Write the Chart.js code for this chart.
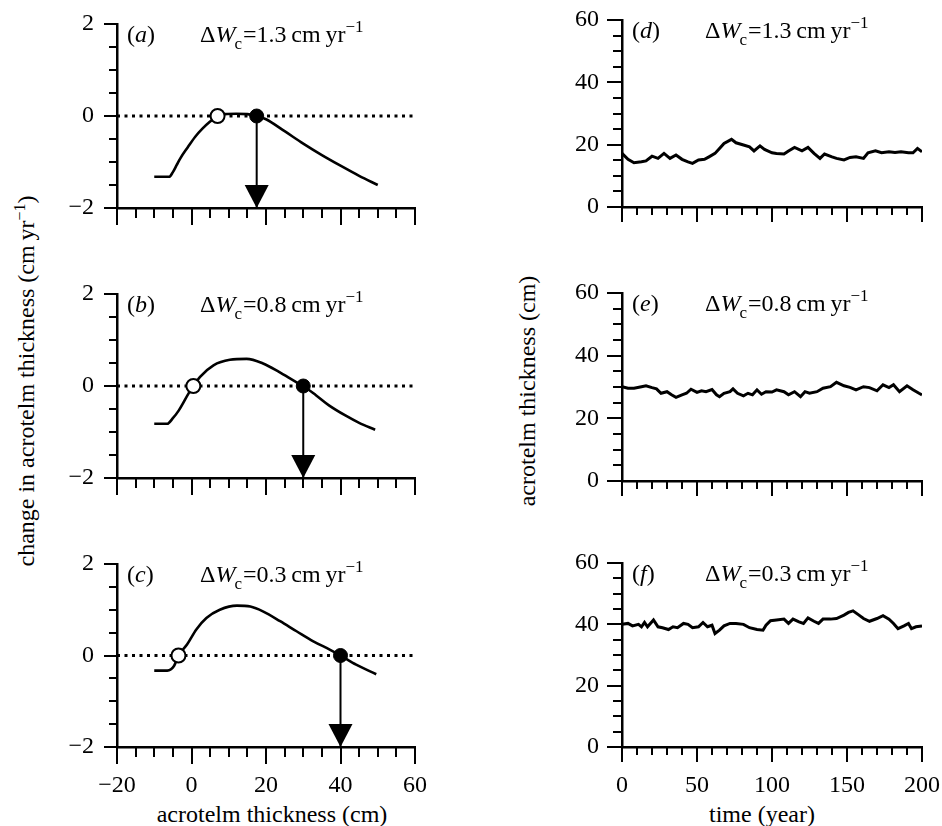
<!DOCTYPE html>
<html>
<head>
<meta charset="utf-8">
<script src="https://cdn.jsdelivr.net/npm/chart.js@4.4.1/dist/chart.umd.min.js"></script>
<style>
  html, body { margin: 0; padding: 0; background: #fff; }
  body { width: 942px; height: 826px; position: relative; overflow: hidden;
         font-family: "Liberation Serif", "Times New Roman", serif; color: #000; }
  canvas { position: absolute; }
  .title { position: absolute; font-size: 24px; white-space: nowrap; line-height: 1; }
  .title sup { font-size: 16px; }
  .rot { transform: translate(-50%, -50%) rotate(-90deg); }
  .hor { transform: translate(-50%, -50%); }
</style>
</head>
<body>
<div class="title rot" style="left:25px; top:381px;">change in acrotelm thickness (cm&#8201;yr<sup>&minus;1</sup>)</div>
<div class="title rot" style="left:527px; top:391px;">acrotelm thickness (cm)</div>
<div class="title hor" style="left:272px; top:814px;">acrotelm thickness (cm)</div>
<div class="title hor" style="left:762px; top:814px;">time (year)</div>

<script>
const FONT = '"Liberation Serif", "Times New Roman", serif';

// tick labels
const leftXTicks = [-20, 0, 20, 40, 60];
const leftYTicks = [-2, 0, 2];
const rightXTicks = [0, 50, 100, 150, 200];
const rightYTicks = [0, 20, 40, 60];

// (a) dWc = 1.3
const aThickness = [-10, -6, -5, -4, -3, -1, 1, 3, 5, 7, 9, 12, 15, 17.5, 20, 25, 30, 35, 40, 45, 50];
const aChange = [-1.32, -1.32, -1.22, -1.07, -0.92, -0.68, -0.45, -0.27, -0.12, 0, 0.04, 0.05, 0.04, 0, -0.07, -0.33, -0.6, -0.85, -1.08, -1.3, -1.5];
const aUnstable = 7, aStable = 17.5;

// (b) dWc = 0.8
const bThickness = [-10, -6.5, -5, -3.4, -0.7, 0.5, 2.3, 5.9, 10.3, 14.8, 19.2, 23.6, 28, 30, 33.4, 36.9, 41.3, 45, 49.3];
const bChange = [-0.82, -0.82, -0.7, -0.53, -0.15, 0, 0.2, 0.45, 0.57, 0.59, 0.49, 0.3, 0.09, 0, -0.2, -0.42, -0.64, -0.8, -0.95];
const bUnstable = 0.5, bStable = 30;

// (c) dWc = 0.3
const cThickness = [-10, -6.5, -4.7, -3.5, -1.2, 1.3, 4, 7.6, 12.2, 15.8, 19.3, 23.8, 28.2, 32.7, 37.1, 40, 44.2, 49.6];
const cChange = [-0.33, -0.33, -0.23, 0, 0.24, 0.57, 0.82, 1.0, 1.09, 1.07, 0.96, 0.75, 0.53, 0.31, 0.13, 0, -0.2, -0.41];
const cUnstable = -3.5, cStable = 40;

// (d) time series, dWc = 1.3
const dYear = [0, 4, 8, 13, 16, 20, 24, 28, 32, 36, 40, 44, 47, 51, 55, 58, 62, 65, 68, 73, 76, 81, 85, 88, 92, 95, 100, 103, 108, 111, 115, 120, 124, 128, 132, 135, 140, 143, 148, 152, 156, 161, 164, 169, 173, 178, 182, 186, 191, 194, 197, 200];
const dThick = [17.2, 15.3, 14.2, 14.5, 14.8, 16.3, 15.6, 17.2, 15.6, 16.7, 15.3, 14.5, 14.0, 15.1, 15.3, 16.1, 17.2, 18.8, 20.4, 21.7, 20.6, 19.9, 19.3, 18.0, 19.6, 18.5, 17.4, 17.2, 17.0, 18.0, 19.1, 18.0, 19.1, 17.2, 15.6, 17.0, 16.1, 15.6, 15.1, 15.9, 16.1, 15.6, 17.4, 18.0, 17.4, 17.7, 17.5, 17.7, 17.4, 17.4, 18.8, 17.7];

// (e) time series, dWc = 0.8
const eYear = [0, 4, 8, 13, 16, 20, 23, 26, 30, 33, 36, 40, 43, 46, 50, 53, 56, 60, 63, 65, 68, 72, 74, 77, 81, 84, 87, 90, 93, 96, 100, 103, 108, 111, 115, 119, 122, 125, 130, 134, 139, 143, 148, 152, 156, 161, 165, 170, 174, 178, 181, 185, 190, 194, 198, 200];
const eThick = [30.1, 29.6, 29.6, 30.1, 30.4, 29.8, 29.4, 28.0, 28.5, 27.5, 26.7, 27.5, 28.0, 29.3, 28.3, 28.8, 28.5, 29.2, 27.5, 26.9, 28.0, 28.5, 29.4, 28.0, 27.2, 28.0, 27.5, 29.1, 27.7, 28.5, 28.4, 29.1, 28.5, 27.5, 28.5, 26.9, 28.5, 28.0, 28.5, 29.6, 30.1, 31.5, 30.4, 29.9, 29.1, 30.1, 29.8, 28.8, 30.7, 29.8, 30.7, 28.5, 30.4, 29.1, 28.0, 27.5];

// (f) time series, dWc = 0.3
const fYear = [0, 4, 7, 11, 13, 15, 17, 21, 24, 27, 31, 34, 37, 41, 44, 47, 51, 54, 57, 60, 62, 65, 68, 72, 76, 81, 85, 90, 94, 96, 99, 103, 108, 111, 114, 118, 121, 124, 128, 131, 134, 139, 143, 148, 151, 154, 158, 161, 165, 170, 174, 178, 181, 184, 188, 191, 193, 196, 200];
const fThick = [40.0, 40.3, 39.5, 40.0, 39.2, 40.6, 39.2, 41.4, 39.2, 38.9, 38.3, 39.2, 38.9, 40.3, 40.0, 38.9, 39.2, 40.6, 39.2, 39.7, 37.0, 38.1, 39.5, 40.3, 40.3, 40.0, 38.9, 38.3, 38.1, 39.7, 41.2, 41.4, 41.7, 40.3, 41.7, 40.8, 40.3, 42.1, 41.0, 40.3, 41.7, 41.7, 41.9, 43.0, 43.9, 44.4, 43.0, 41.9, 41.0, 41.9, 42.8, 41.7, 40.3, 38.6, 39.5, 40.3, 38.6, 39.2, 39.5];

Chart.defaults.font.family = FONT;
Chart.defaults.font.size = 24;
Chart.defaults.color = '#000';

function fmt(v) {
  return v < 0 ? '\u2212' + Math.abs(v) : String(v);
}

function pts(xs, ys) {
  return xs.map((x, i) => ({ x: x, y: ys[i] }));
}

// outward tick marks, long at labelled values and short between them
const tickMarks = {
  id: 'tickMarks',
  afterDraw(chart, args, opts) {
    const ctx = chart.ctx;
    const area = chart.chartArea;
    ctx.save();
    ctx.strokeStyle = '#000';
    ctx.lineWidth = 2;
    chart.scales.x.ticks.forEach(t => {
      const px = Math.round(chart.scales.x.getPixelForValue(t.value));
      const len = opts.xMajor.includes(t.value) ? opts.xLen[0] : opts.xLen[1];
      ctx.beginPath();
      ctx.moveTo(px, area.bottom);
      ctx.lineTo(px, area.bottom + len);
      ctx.stroke();
    });
    chart.scales.y.ticks.forEach(t => {
      const py = Math.round(chart.scales.y.getPixelForValue(t.value));
      const len = opts.yMajor.includes(t.value) ? opts.yLen[0] : opts.yLen[1];
      ctx.beginPath();
      ctx.moveTo(area.left, py);
      ctx.lineTo(area.left - len, py);
      ctx.stroke();
    });
    ctx.restore();
  }
};

// filled arrow head at the last point of datasets flagged with arrow
const arrowHeads = {
  id: 'arrowHeads',
  afterDatasetsDraw(chart) {
    const ctx = chart.ctx;
    chart.data.datasets.forEach((ds, i) => {
      if (!ds.arrow) return;
      const els = chart.getDatasetMeta(i).data;
      const tip = els[els.length - 1];
      ctx.save();
      ctx.fillStyle = '#000';
      ctx.beginPath();
      ctx.moveTo(tip.x, tip.y);
      ctx.lineTo(tip.x - 12, tip.y - 23);
      ctx.lineTo(tip.x + 12, tip.y - 23);
      ctx.closePath();
      ctx.fill();
      ctx.restore();
    });
  }
};

// panel letter and "ΔWc = x cm yr-1" note
const panelNote = {
  id: 'panelNote',
  afterDraw(chart, args, opts) {
    const ctx = chart.ctx;
    const area = chart.chartArea;
    const base = area.top + 18;
    const big = '24px ' + FONT, bigIt = 'italic 24px ' + FONT, small = '17px ' + FONT;
    ctx.save();
    ctx.fillStyle = '#000';
    ctx.textBaseline = 'alphabetic';
    let x = area.left + 10;
    const put = (txt, font, dy) => {
      ctx.font = font;
      ctx.fillText(txt, x, base + (dy || 0));
      x += ctx.measureText(txt).width;
    };
    put('(', big); put(opts.letter, bigIt); put(')', big);
    x = area.left + 83;
    put('\u0394', big); put('W', bigIt);
    x -= 1;
    put('c', small, 7);
    x += 1;
    put('=', big);
    put(opts.rate + '\u2009cm\u2009yr', big);
    put('\u22121', small, -10);
    ctx.restore();
  }
};

function makeScales(left, showX) {
  const xMajor = left ? leftXTicks : rightXTicks;
  const yMajor = left ? leftYTicks : rightYTicks;
  return {
    x: {
      type: 'linear',
      min: xMajor[0],
      max: xMajor[xMajor.length - 1],
      grid: { display: false },
      border: { display: true, color: '#000', width: 2.5 },
      ticks: {
        stepSize: left ? 5 : 10,
        autoSkip: false,
        maxTicksLimit: 100,
        maxRotation: 0,
        padding: 16,
        color: '#000',
        callback: v => (showX && xMajor.includes(v)) ? fmt(v) : ''
      },
      afterFit: s => { s.height = 50; s.paddingLeft = 0; s.paddingRight = 0; }
    },
    y: {
      type: 'linear',
      min: yMajor[0],
      max: yMajor[yMajor.length - 1],
      grid: { display: false },
      border: { display: true, color: '#000', width: 2.5 },
      ticks: {
        stepSize: left ? 0.5 : 5,
        autoSkip: false,
        maxTicksLimit: 100,
        padding: 15,
        color: '#000',
        callback: v => yMajor.includes(v) ? fmt(v) : ''
      },
      afterFit: s => { s.width = 60; s.paddingTop = 0; s.paddingBottom = 0; }
    }
  };
}

function phaseDatasets(xs, ys, unstable, stable) {
  return [
    { data: pts(xs, ys), borderColor: '#000', borderWidth: 2.6, pointRadius: 0,
      cubicInterpolationMode: 'monotone', order: 2 },
    { data: [{ x: leftXTicks[0], y: 0 }, { x: leftXTicks[leftXTicks.length - 1], y: 0 }],
      borderColor: '#000', borderWidth: 3, borderDash: [3, 4.5], pointRadius: 0, order: 4 },
    { data: [{ x: stable, y: 0 }, { x: stable, y: leftYTicks[0] }], arrow: true,
      borderColor: '#000', borderWidth: 2, pointRadius: 0, order: 3 },
    { data: [{ x: unstable, y: 0 }], showLine: false, pointRadius: 7,
      pointBackgroundColor: '#fff', pointBorderColor: '#000', pointBorderWidth: 2, order: 1 },
    { data: [{ x: stable, y: 0 }], showLine: false, pointRadius: 7,
      pointBackgroundColor: '#000', pointBorderColor: '#000', pointBorderWidth: 1, order: 0 }
  ];
}

function seriesDatasets(xs, ys) {
  return [{ data: pts(xs, ys), borderColor: '#000', borderWidth: 3, pointRadius: 0, tension: 0 }];
}

const panels = [
  { left: 57, top: 10, width: 383, height: 248, padR: 25, isLeft: true, showX: false, letter: 'a', rate: '1.3',
    datasets: phaseDatasets(aThickness, aChange, aUnstable, aStable) },
  { left: 57, top: 280, width: 383, height: 248, padR: 25, isLeft: true, showX: false, letter: 'b', rate: '0.8',
    datasets: phaseDatasets(bThickness, bChange, bUnstable, bStable) },
  { left: 57, top: 550, width: 383, height: 247, padR: 25, isLeft: true, showX: true, letter: 'c', rate: '0.3',
    datasets: phaseDatasets(cThickness, cChange, cUnstable, cStable) },
  { left: 562, top: 6, width: 378, height: 251, padR: 18, isLeft: false, showX: false, letter: 'd', rate: '1.3',
    datasets: seriesDatasets(dYear, dThick) },
  { left: 562, top: 279, width: 378, height: 252, padR: 18, isLeft: false, showX: false, letter: 'e', rate: '0.8',
    datasets: seriesDatasets(eYear, eThick) },
  { left: 562, top: 549, width: 378, height: 248, padR: 18, isLeft: false, showX: true, letter: 'f', rate: '0.3',
    datasets: seriesDatasets(fYear, fThick) }
];

panels.forEach(p => {
  const canvas = document.createElement('canvas');
  canvas.width = p.width;
  canvas.height = p.height;
  canvas.style.left = p.left + 'px';
  canvas.style.top = p.top + 'px';
  document.body.appendChild(canvas);

  new Chart(canvas.getContext('2d'), {
    type: 'line',
    data: { datasets: p.datasets },
    options: {
      responsive: false,
      animation: false,
      events: [],
      layout: { padding: { top: 14, right: p.padR, left: 0, bottom: 0 } },
      scales: makeScales(p.isLeft, p.showX),
      plugins: {
        legend: { display: false },
        tooltip: { enabled: false },
        tickMarks: p.isLeft
          ? { xMajor: leftXTicks, yMajor: leftYTicks, xLen: [17, 10], yLen: [13, 8] }
          : { xMajor: rightXTicks, yMajor: rightYTicks, xLen: [15, 8], yLen: [15, 9] },
        panelNote: { letter: p.letter, rate: p.rate }
      }
    },
    plugins: [tickMarks, arrowHeads, panelNote]
  });
});
</script>
</body>
</html>
